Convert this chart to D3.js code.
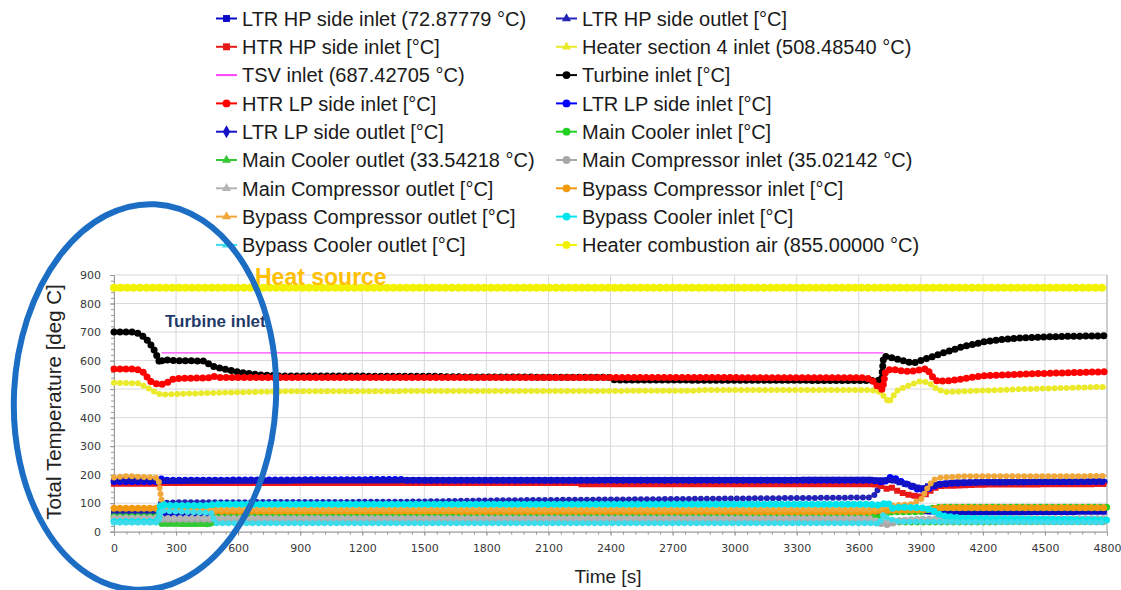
<!DOCTYPE html>
<html>
<head>
<meta charset="utf-8">
<script src="https://cdn.jsdelivr.net/npm/d3@7/dist/d3.min.js"></script>
<style>
  body { margin: 0; background: #fff; }
  svg { display: block; font-family: "Liberation Sans", Arial, sans-serif; }
</style>
</head>
<body>
<svg id="chart" width="1121" height="590"></svg>
<script>
// ---- data ----
const xTicks = d3.range(0, 4801, 300);
const yTicks = d3.range(0, 901, 100);

const leftLabels = [
  'LTR HP side inlet (72.87779 °C)',
  'HTR HP side inlet [°C]',
  'TSV inlet (687.42705 °C)',
  'HTR LP side inlet [°C]',
  'LTR LP side outlet [°C]',
  'Main Cooler outlet (33.54218 °C)',
  'Main Compressor outlet [°C]',
  'Bypass Compressor outlet [°C]',
  'Bypass Cooler outlet [°C]'
];
const rightLabels = [
  'LTR HP side outlet [°C]',
  'Heater section 4 inlet (508.48540 °C)',
  'Turbine inlet [°C]',
  'LTR LP side inlet [°C]',
  'Main Cooler inlet [°C]',
  'Main Compressor inlet (35.02142 °C)',
  'Bypass Compressor inlet [°C]',
  'Bypass Cooler inlet [°C]',
  'Heater combustion air (855.00000 °C)'
];

// [time s, temperature degC]
const ltrHpInlet = [[0,64],[210,64],[230,62],[3650,63],[3700,66],[3760,74],[3900,72],[4000,70],[4150,66],[4200,68],[4800,70]];
const ltrHpOutlet = [[0,66],[210,66],[225,100],[300,103],[1400,105],[1850,110],[2450,113],[3100,117],[3650,120],[3680,130],[3700,160],[3720,176],[3760,182],[3850,165],[3900,150],[3950,160],[4050,170],[4800,175]];
const htrHpInlet = [[0,168],[200,168],[230,171],[2250,171],[2260,166],[3680,166],[3720,158],[3740,148],[3760,154],[3800,138],[3850,128],[3900,123],[3930,133],[3960,152],[4000,160],[4200,165],[4800,167]];
const heaterSec4Inlet = [[0,522],[120,520],[160,505],[210,485],[230,480],[300,483],[500,487],[800,492],[1500,493],[2800,494],[2850,497],[3660,497],[3700,490],[3730,470],[3745,452],[3760,470],[3790,497],[3850,515],[3900,528],[3940,522],[3980,498],[4020,490],[4100,492],[4400,500],[4800,508]];
const tsvInlet = [[230,627],[3720,627]];
const turbineInlet = [[0,700],[100,700],[130,692],[170,665],[200,630],[222,590],[235,603],[300,600],[440,598],[470,582],[520,572],[600,560],[700,550],[800,546],[1550,545],[1600,543],[2400,541],[2420,532],[3710,530],[3720,615],[3740,613],[3800,603],[3840,594],[3870,593],[3920,605],[4000,625],[4100,648],[4200,665],[4300,675],[4400,680],[4600,685],[4800,687]];
const htrLpInlet = [[0,570],[110,570],[140,560],[180,525],[220,515],[250,520],[290,537],[470,540],[480,545],[500,541],[3630,540],[3660,535],[3690,510],[3715,498],[3730,565],[3760,570],[3800,565],[3850,562],[3900,568],[3930,572],[3950,548],[3980,527],[4050,530],[4200,547],[4400,553],[4600,557],[4800,561]];
const ltrLpInlet = [[0,176],[210,176],[230,185],[260,180],[1400,183],[1420,180],[3650,180],[3700,178],[3720,170],[3740,186],[3760,192],[3800,178],[3850,160],[3900,145],[3940,152],[3980,165],[4050,170],[4200,174],[4800,176]];
const ltrLpOutlet = [[0,181],[210,181],[230,178],[1400,180],[3650,182],[3700,180],[3760,182],[3850,162],[3900,150],[3950,163],[4050,172],[4800,177]];
const mainCoolerInlet = [[0,52],[210,52],[230,30],[470,28],[490,53],[3650,53],[3700,50],[3760,70],[3900,70],[3950,82],[4000,86],[4800,86]];
const mainCoolerOutlet = [[0,33],[210,33],[230,27],[470,27],[490,33],[3650,33],[3700,30],[3800,32],[4800,33.5]];
const mainCompInlet = [[0,40],[210,40],[230,44],[3650,43],[3700,30],[3740,25],[3800,38],[3900,42],[4000,38],[4800,35]];
const mainCompOutlet = [[0,50],[210,50],[230,48],[3650,48],[3700,36],[3760,40],[3900,45],[4000,48],[4800,48]];
const bypassCompInlet = [[0,82],[210,82],[230,86],[300,78],[500,72],[3650,70],[3700,72],[3760,75],[3900,76],[3960,80],[4000,84],[4800,84]];
const bypassCompOutlet = [[0,190],[60,195],[200,190],[215,185],[225,130],[235,90],[250,80],[500,78],[3650,78],[3700,82],[3760,92],[3850,96],[3900,112],[3930,150],[3960,182],[4000,190],[4100,194],[4800,195]];
const bypassCoolerInlet = [[0,35],[215,35],[225,97],[260,92],[460,92],[480,96],[3650,96],[3700,93],[3740,102],[3760,82],[3800,86],[3900,84],[3950,78],[4000,56],[4100,47],[4800,41]];
const bypassCoolerOutlet = [[0,32],[215,32],[225,75],[250,72],[470,66],[490,30],[3650,30],[3700,28],[3720,62],[3740,45],[3800,35],[4800,33]];
const heaterCombAir = [[0,855],[4800,855]];

// series in legend order: left column, right column, row by row
const seriesValues = [
  ltrHpInlet, ltrHpOutlet,
  htrHpInlet, heaterSec4Inlet,
  tsvInlet, turbineInlet,
  htrLpInlet, ltrLpInlet,
  ltrLpOutlet, mainCoolerInlet,
  mainCoolerOutlet, mainCompInlet,
  mainCompOutlet, bypassCompInlet,
  bypassCompOutlet, bypassCoolerInlet,
  bypassCoolerOutlet, heaterCombAir
];

// ---- styles ----
const seriesColors = [
  '#0a0ac8', '#2323b8',
  '#e81818', '#eaea2a',
  '#ff44ff', '#000000',
  '#ff0000', '#0000ff',
  '#1212c4', '#22d022',
  '#35c835', '#a8a8a8',
  '#b4b4b4', '#f29a10',
  '#f0a83a', '#00e4ee',
  '#3cdcec', '#f2f200'
];
const seriesShapes = [
  'square', 'triangle',
  'square', 'triangle',
  'none', 'circle',
  'circle', 'circle',
  'diamond', 'circle',
  'triangle', 'circle',
  'triangle', 'circle',
  'triangle', 'circle',
  'triangle', 'circle'
];

const svg = d3.select('#chart');

const x = d3.scaleLinear().domain([0, 4800]).range([114, 1107]);
const y = d3.scaleLinear().domain([0, 900]).range([531.7, 275]);

// grid
const grid = svg.append('g');
grid.selectAll('line.gx')
  .data(xTicks)
  .join('line')
  .attr('x1', d => x(d)).attr('x2', d => x(d))
  .attr('y1', y(900)).attr('y2', y(0))
  .attr('stroke', '#d9d9d9').attr('stroke-width', 1);
grid.selectAll('line.gy')
  .data(yTicks)
  .join('line')
  .attr('x1', x(0)).attr('x2', x(4800))
  .attr('y1', d => y(d)).attr('y2', d => y(d))
  .attr('stroke', '#d9d9d9').attr('stroke-width', 1);

// axes
svg.append('g')
  .attr('transform', `translate(0,${y(0)})`)
  .call(d3.axisBottom(x).tickValues(xTicks).tickSize(4).tickPadding(9).tickFormat(d3.format('d')));
svg.append('g')
  .attr('transform', `translate(0,${y(0)})`)
  .call(d3.axisBottom(x).tickValues(d3.range(0, 4801, 60)).tickSize(3).tickFormat(''))
  .call(g => g.select('.domain').remove());
svg.append('g')
  .attr('transform', `translate(${x(0)},0)`)
  .call(d3.axisLeft(y).tickValues(yTicks).tickSize(4).tickPadding(9).tickFormat(d3.format('d')));
svg.append('g')
  .attr('transform', `translate(${x(0)},0)`)
  .call(d3.axisLeft(y).tickValues(d3.range(0, 901, 20)).tickSize(3).tickFormat(''))
  .call(g => g.select('.domain').remove());

svg.selectAll('.tick line').attr('stroke', '#9a9a9a');
svg.selectAll('.domain').attr('stroke', '#9a9a9a');
svg.selectAll('.tick text')
  .attr('fill', '#383838')
  .style('font-family', '"DejaVu Sans", sans-serif')
  .style('font-size', '11px');

// right frame
svg.append('line')
  .attr('x1', x(4800)).attr('x2', x(4800))
  .attr('y1', y(900)).attr('y2', y(0))
  .attr('stroke', '#b0b0b0');

// series
const line = d3.line().x(d => x(d[0])).y(d => y(d[1]));
const plot = svg.append('g');
seriesValues.forEach((vals, i) => {
  const color = seriesColors[i];
  const shape = seriesShapes[i];
  plot.append('path')
    .attr('d', line(vals))
    .attr('fill', 'none')
    .attr('stroke', color)
    .attr('stroke-width', 1.3);
  if (shape !== 'none') {
    const big = i === seriesValues.length - 1;
    plot.append('path')
      .attr('d', line(vals))
      .attr('fill', 'none')
      .attr('stroke', color)
      .attr('stroke-width', big ? 8 : (shape === 'circle' ? 7 : 6))
      .attr('stroke-dasharray', big ? '0 6.5' : '0 6')
      .attr('stroke-linecap', shape === 'square' || shape === 'diamond' ? 'square' : 'round');
  }
});

// axis titles
svg.append('text')
  .attr('transform', `translate(61,402) rotate(-90)`)
  .attr('text-anchor', 'middle')
  .attr('fill', '#222')
  .style('font-size', '20.5px')
  .text('Total Temperature [deg C]');
svg.append('text')
  .attr('x', 608).attr('y', 583)
  .attr('text-anchor', 'middle')
  .attr('fill', '#222')
  .style('font-size', '19px')
  .text('Time [s]');

// legend
const symbolType = {
  square: d3.symbolSquare,
  triangle: d3.symbolTriangle,
  circle: d3.symbolCircle,
  diamond: d3.symbolDiamond
};
const legend = svg.append('g');
const colX = [216, 556];
[leftLabels, rightLabels].forEach((labels, c) => {
  labels.forEach((label, r) => {
    const idx = r * 2 + c;
    const ly = 18.5 + r * 28.3;
    const g = legend.append('g').attr('transform', `translate(${colX[c]},${ly})`);
    g.append('line')
      .attr('x1', 0).attr('x2', 21)
      .attr('stroke', seriesColors[idx]).attr('stroke-width', 2);
    if (seriesShapes[idx] !== 'none') {
      g.append('path')
        .attr('transform', 'translate(10.5,0)')
        .attr('d', d3.symbol(symbolType[seriesShapes[idx]], seriesShapes[idx] === 'triangle' ? 36 : 48)())
        .attr('fill', seriesColors[idx]);
    }
    g.append('text')
      .attr('x', 26).attr('dy', '0.36em')
      .attr('fill', '#1a1a1a')
      .style('font-size', '20px')
      .text(label);
  });
});

// annotations
svg.append('text')
  .attr('x', 255).attr('y', 285)
  .attr('fill', '#ffc000')
  .style('font-size', '23px').style('font-weight', 'bold')
  .text('Heat source');
svg.append('text')
  .attr('x', 165).attr('y', 327)
  .attr('fill', '#1f3a68')
  .style('font-size', '17px').style('font-weight', 'bold')
  .text('Turbine inlet');

svg.append('ellipse')
  .attr('cx', 145).attr('cy', 397)
  .attr('rx', 131).attr('ry', 193)
  .attr('transform', 'rotate(3,145,397)')
  .attr('fill', 'none')
  .attr('stroke', '#1c6dc4')
  .attr('stroke-width', 6);
</script>
</body>
</html>
